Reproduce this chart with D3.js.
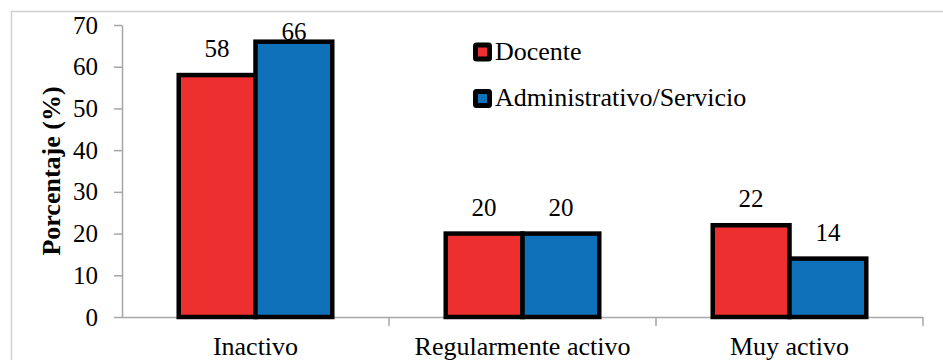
<!DOCTYPE html>
<html>
<head>
<meta charset="utf-8">
<script src="https://cdn.jsdelivr.net/npm/d3@7"></script>
<style>
  html, body { margin: 0; padding: 0; background: #fff; }
  svg { display: block; }
</style>
</head>
<body>
<svg id="chart" width="943" height="360"></svg>
<script>
// Nivel de actividad física por tipo de personal
const categories = ["Inactivo", "Regularmente activo", "Muy activo"];
const seriesNames = ["Docente", "Administrativo/Servicio"];
const docente = [58, 20, 22];
const administrativo = [66, 20, 14];
const yTicks = [0, 10, 20, 30, 40, 50, 60, 70];
const colors = ["#ee2f2f", "#0f71ba"];

const FONT = "'Liberation Serif', 'Times New Roman', Times, serif";

const seriesValues = [docente, administrativo];
const rows = categories.map((c, i) => ({
  category: c,
  values: seriesNames.map((s, j) => ({ series: s, index: j, value: seriesValues[j][i] }))
}));

const svg = d3.select("#chart");
const W = 943, H = 360;
const plot = { left: 122, right: 923, top: 25, bottom: 317 };

// Outer chart frame (left and top edges visible)
svg.append("path")
  .attr("d", `M11.5,${H} L11.5,11.5 L${W},11.5`)
  .attr("fill", "none")
  .attr("stroke", "#d0d0d0")
  .attr("stroke-width", 1.5);

const x0 = d3.scaleBand().domain(categories).range([plot.left, plot.right]).padding(0);
const groupW = x0.bandwidth() * 0.575;
const x1 = d3.scaleBand().domain(seriesNames)
  .range([(x0.bandwidth() - groupW) / 2, (x0.bandwidth() + groupW) / 2]).padding(0);
const y = d3.scaleLinear().domain([0, 70]).range([plot.bottom, plot.top]);

// Y axis
const yAxis = svg.append("g")
  .attr("transform", `translate(${plot.left},0)`)
  .call(d3.axisLeft(y).tickValues(yTicks).tickSize(8).tickSizeOuter(0).tickPadding(16));
yAxis.attr("font-family", null).attr("font-size", null);
yAxis.select(".domain").attr("stroke", "#a6a6a6").attr("stroke-width", 1.5);
yAxis.selectAll(".tick line").attr("stroke", "#a6a6a6").attr("stroke-width", 1.5);
yAxis.selectAll(".tick text")
  .style("font-family", FONT)
  .style("font-size", "25px")
  .attr("fill", "#000");

// X axis: ticks mark the category boundaries
const xAxisG = svg.append("g").attr("transform", `translate(0,${plot.bottom})`);
xAxisG.append("line")
  .attr("x1", plot.left).attr("x2", plot.right)
  .attr("y1", 0.5).attr("y2", 0.5)
  .attr("stroke", "#a6a6a6").attr("stroke-width", 1.5);
const boundaries = categories.slice(1).map(c => x0(c)).concat([plot.right]);
xAxisG.selectAll("line.bnd").data(boundaries).join("line")
  .attr("class", "bnd")
  .attr("x1", d => d).attr("x2", d => d)
  .attr("y1", 0).attr("y2", 9)
  .attr("stroke", "#a6a6a6").attr("stroke-width", 1.5);
xAxisG.selectAll("text.cat").data(categories).join("text")
  .attr("class", "cat")
  .attr("x", d => x0(d) + x0.bandwidth() / 2)
  .attr("y", 38)
  .attr("text-anchor", "middle")
  .style("font-family", FONT)
  .style("font-size", "26px")
  .text(d => d);

// Bars
const groups = svg.append("g").selectAll("g").data(rows).join("g")
  .attr("transform", d => `translate(${x0(d.category)},0)`);
groups.selectAll("rect").data(d => d.values).join("rect")
  .attr("x", d => x1(d.series))
  .attr("y", d => y(d.value))
  .attr("width", x1.bandwidth())
  .attr("height", d => y(0) - y(d.value))
  .attr("fill", d => colors[d.index])
  .attr("stroke", "#000")
  .attr("stroke-width", 4.5);

// Value labels (kept inside the plot area)
groups.selectAll("text").data(d => d.values).join("text")
  .attr("x", d => x1(d.series) + x1.bandwidth() / 2)
  .attr("y", d => Math.max(y(d.value) - 18, y(70) + 15))
  .attr("text-anchor", "middle")
  .style("font-family", FONT)
  .style("font-size", "25px")
  .text(d => d.value);

// Y axis title
svg.append("text")
  .attr("transform", `translate(60,171) rotate(-90)`)
  .attr("text-anchor", "middle")
  .style("font-family", FONT)
  .style("font-size", "26px")
  .style("font-weight", "bold")
  .text("Porcentaje (%)");

// Legend
const legend = svg.append("g").attr("transform", "translate(473,0)");
const legendRows = [52, 98.5];
const items = legend.selectAll("g").data(seriesNames).join("g")
  .attr("transform", (d, i) => `translate(0,${legendRows[i]})`);
items.append("rect")
  .attr("x", 2.5).attr("y", -7)
  .attr("width", 14).attr("height", 14)
  .attr("fill", (d, i) => colors[i])
  .attr("stroke", "#000")
  .attr("stroke-width", 5)
  .attr("rx", 1);
items.append("text")
  .attr("x", 22)
  .attr("y", 7.5)
  .style("font-family", FONT)
  .style("font-size", "26px")
  .text(d => d);
</script>
</body>
</html>
